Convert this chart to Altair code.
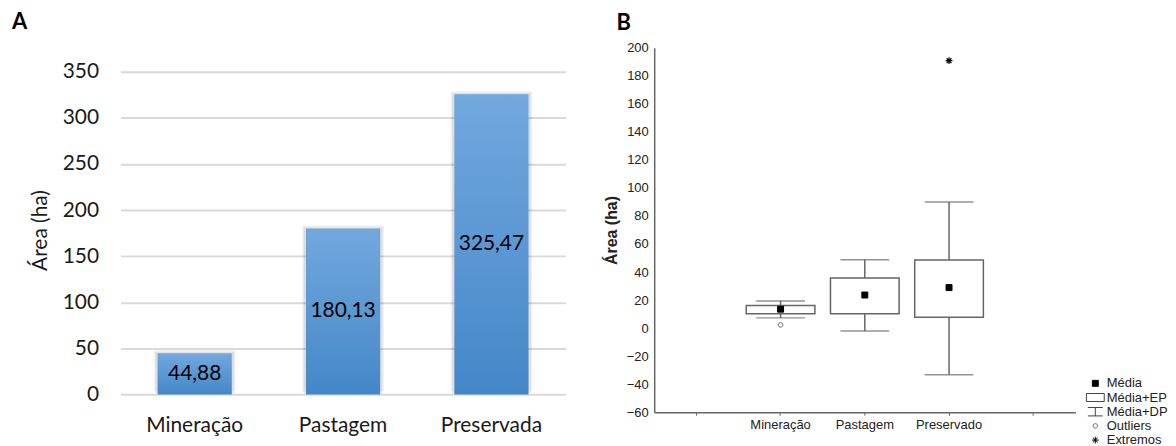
import altair as alt
import pandas as pd

# ---------------- Panel A data ----------------
cats_a = ["Mineração", "Pastagem", "Preservada"]
area_a = [44.88, 180.13, 325.47]
labels_a = ["44,88", "180,13", "325,47"]
ticks_a = [0, 50, 100, 150, 200, 250, 300, 350]

# ---------------- Panel B data ----------------
cats_b = ["Mineração", "Pastagem", "Preservado"]
xdomain_b = ["_l", "Mineração", "Pastagem", "Preservado", "_r"]
mean_b = [13.5, 23.6, 28.9]
ep_lo_b = [10.2, 10.2, 7.8]
ep_hi_b = [16.1, 35.8, 48.6]
dp_lo_b = [7.3, -2.1, -33.3]
dp_hi_b = [19.4, 48.7, 90.0]
out_cat = ["Mineração"]
out_val = [2.3]
ext_cat = ["Preservado"]
ext_val = [190.8]
ticks_b = list(range(-60, 201, 20))
legend_keys = ["Média", "Média+EP", "Média+DP", "Outliers", "Extremos"]

FA = "Lato"
FB = "Liberation Sans"

# ---------------- Panel A ----------------
df_a = pd.DataFrame({"cat": cats_a, "area": area_a, "label": labels_a})

xa = alt.X("cat:N", sort=cats_a,
           scale=alt.Scale(paddingInner=0.5, paddingOuter=0.25),
           axis=alt.Axis(title=None, labelAngle=0, labelFont=FA, labelFontSize=21,
                         labelColor="#1a1a1a", labelPadding=2, ticks=False, domain=False))
ya_scale = alt.Scale(domain=[-19.1, 375.9], nice=False, zero=False)
ya_axis = alt.Axis(title="Área (ha)", values=ticks_a, grid=True, gridColor="#d9d9d9",
                   gridWidth=2, ticks=False, domain=False, labelFont=FA,
                   labelFontSize=21, labelColor="#1a1a1a", labelPadding=22,
                   titleFont=FA, titleFontSize=21, titleFontWeight="normal",
                   titleColor="#1a1a1a", titlePadding=12)
ya = alt.Y("area:Q", scale=ya_scale, axis=ya_axis)

grad = alt.Gradient(gradient="linear",
                    stops=[alt.GradientStop(color="#72a8de", offset=0),
                           alt.GradientStop(color="#4487c8", offset=1)],
                    x1=0, x2=0, y1=0, y2=1)

base_a = alt.Chart(df_a)
shadow1 = base_a.mark_bar(color="#000", opacity=0.06, width=82, yOffset=-3).encode(x=xa, y=ya)
shadow2 = base_a.mark_bar(color="#000", opacity=0.08, width=79, yOffset=-1).encode(x=xa, y=ya)
bars = base_a.mark_bar(color=grad, width=74.5).encode(x=xa, y=ya)
txt = base_a.transform_calculate(mid="datum.area/2").mark_text(
    font=FA, fontSize=21, color="#000", baseline="middle").encode(
    x=xa, y=alt.Y("mid:Q", scale=ya_scale, axis=ya_axis), text="label:N")

panel_a = alt.layer(shadow1, shadow2, bars, txt).properties(
    width=447, height=366,
    title=alt.TitleParams("A", anchor="start", frame="group", dx=-109, offset=14,
                          baseline="top", font=FA, fontSize=22,
                          fontWeight="bold", color="#000"))

# ---------------- Panel B ----------------
df_b = pd.DataFrame({"cat": cats_b, "mean": mean_b, "ep_lo": ep_lo_b, "ep_hi": ep_hi_b,
                     "dp_lo": dp_lo_b, "dp_hi": dp_hi_b,
                     "key": ["Média"] * len(cats_b)})
df_out = pd.DataFrame({"cat": out_cat, "val": out_val, "key": ["Outliers"] * len(out_cat)})
df_ext = pd.DataFrame({"cat": ext_cat, "val": ext_val, "key": ["Extremos"] * len(ext_cat)})

xb = alt.X("cat:N", scale=alt.Scale(domain=xdomain_b, paddingInner=0, paddingOuter=0),
           axis=alt.Axis(title=None, labelAngle=0,
                         labelExpr="indexof(datum.value, '_') == 0 ? '' : datum.value",
                         labelFont=FB, labelFontSize=13, labelColor="#222",
                         tickSize=3, tickColor="#666", labelPadding=3,
                         domainColor="#666", domainWidth=1.5))
yb_scale = alt.Scale(domain=[-60, 200], nice=False, zero=False)
yb_axis = alt.Axis(title="Área (ha)", values=ticks_b, grid=False, ticks=False,
                   labelOverlap=False, labelFont=FB, labelFontSize=13, labelColor="#222",
                   labelPadding=6, domainColor="#666", domainWidth=1.5, titleFont=FB,
                   titleFontSize=16, titleFontWeight="bold", titleColor="#222",
                   titlePadding=7)


def yb(field):
    return alt.Y(field, scale=yb_scale, axis=yb_axis)


paths = [
    "M-0.46,-0.46H0.46V0.46H-0.46Z",
    "M-1.38,-0.62H1.38V0.62H-1.38Z",
    "M-1.15,-0.65H1.15M0,-0.65V0.65M-1.15,0.65H1.15",
    "M0.35,0A0.35,0.35 0 1,1 -0.35,0A0.35,0.35 0 1,1 0.35,0Z",
    "M-0.52,0H0.52M0,-0.52V0.52M-0.37,-0.37L0.37,0.37M-0.37,0.37L0.37,-0.37",
]
leg = alt.Legend(title=None, orient="none", legendX=972, legendY=330, symbolSize=169,
                 labelFont=FB, labelFontSize=13, labelColor="#222", labelOffset=4.5,
                 rowPadding=0.25, padding=0, symbolStrokeWidth=1)
shape_enc = alt.Shape("key:N", scale=alt.Scale(domain=legend_keys, range=paths), legend=leg)
fill_enc = alt.Fill("key:N", scale=alt.Scale(domain=legend_keys,
                    range=["#000", "#fff", "#fff", "#fff", "#000"]), legend=leg)
stroke_enc = alt.Stroke("key:N", scale=alt.Scale(domain=legend_keys,
                        range=["#000", "#444", "#444", "#666", "#000"]), legend=leg)

base_b = alt.Chart(df_b)
whisk = base_b.mark_rule(color="#666", strokeWidth=1.5).encode(
    x=xb, y=yb("dp_lo:Q"), y2="dp_hi:Q")
cap_hi = base_b.mark_tick(color="#666", size=49, thickness=1.5, orient="horizontal").encode(
    x=xb, y=yb("dp_hi:Q"))
cap_lo = base_b.mark_tick(color="#666", size=49, thickness=1.5, orient="horizontal").encode(
    x=xb, y=yb("dp_lo:Q"))
box = base_b.mark_bar(fill="white", stroke="#666", strokeWidth=1.5,
                      width=alt.RelativeBandSize(0.815)).encode(
    x=xb, y=yb("ep_hi:Q"), y2="ep_lo:Q")
means = base_b.mark_point(filled=True, size=169, strokeWidth=1, opacity=1).encode(
    x=xb, y=yb("mean:Q"), shape=shape_enc, fill=fill_enc, stroke=stroke_enc)
outl = alt.Chart(df_out).mark_point(filled=True, size=169, strokeWidth=1, opacity=1).encode(
    x=xb, y=yb("val:Q"), shape=shape_enc, fill=fill_enc, stroke=stroke_enc)
extr = alt.Chart(df_ext).mark_point(filled=True, size=169, strokeWidth=1.2, opacity=1).encode(
    x=xb, y=yb("val:Q"), shape=shape_enc, fill=fill_enc, stroke=stroke_enc)

panel_b = alt.layer(whisk, cap_hi, cap_lo, box, means, outl, extr).properties(
    width=423, height=366,
    title=alt.TitleParams("B", anchor="start", frame="group", dx=-38, offset=7,
                          baseline="top", font=FA, fontSize=22,
                          fontWeight="bold", color="#000"))

chart = alt.hconcat(panel_a, panel_b, spacing=89, bounds="flush").properties(
    padding={"left": 4, "top": 2, "right": 0, "bottom": 0}
).configure_view(stroke=None)

chart.save("out.html", embed_options={"renderer": "svg", "actions": False})
